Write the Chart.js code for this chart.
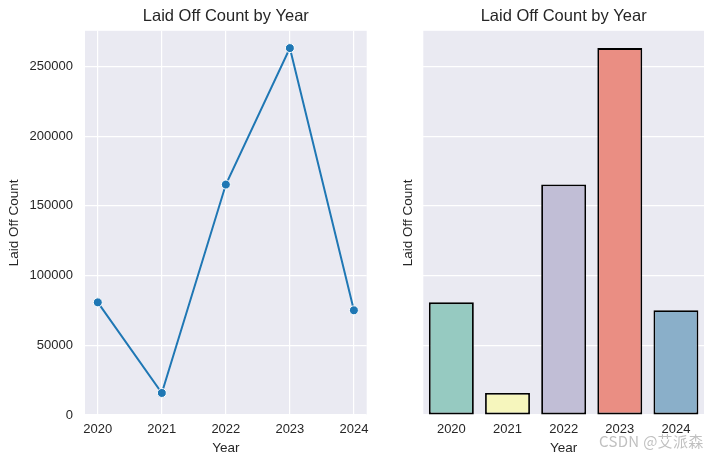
<!DOCTYPE html>
<html>
<head>
<meta charset="utf-8">
<script src="https://cdn.jsdelivr.net/npm/chart.js@4.4.1/dist/chart.umd.min.js"></script>
<style>
  html, body { margin: 0; padding: 0; background: #ffffff; }
  #wrap { position: relative; width: 713px; height: 464px; overflow: hidden; }
  #c1 { position: absolute; left: 0; top: 0; }
  #c2 { position: absolute; left: 370px; top: 0; }
  #wm { position: absolute; left: 599px; top: 430px; font: 15px "Noto Sans CJK SC", "Liberation Sans", sans-serif; color: rgba(150,150,150,0.6); white-space: nowrap; letter-spacing: 0.3px; }
</style>
</head>
<body>
<div id="wrap">
  <canvas id="c1" width="382" height="464"></canvas>
  <canvas id="c2" width="343" height="464"></canvas>
  <div id="wm">CSDN @艾派森</div>
</div>
<script>
const years = [2020, 2021, 2022, 2023, 2024];
const yearLabels = ['2020', '2021', '2022', '2023', '2024'];
const laidOff = [80800, 15800, 165300, 263200, 75100];
const yTicks = [0, 50000, 100000, 150000, 200000, 250000];
const barColors = ['#96cac1', '#f6f6bd', '#c1bed6', '#ea8e83', '#8aafc9'];
const titleText = 'Laid Off Count by Year';
const xTitle = 'Year';
const yTitle = 'Laid Off Count';

const FONT = '"Liberation Sans", Arial, sans-serif';
const TXT = '#262626';
const Y_MIN = 0, Y_MAX = 275600;

const bgPlugin = {
  id: 'bg',
  beforeDraw(chart) {
    const {ctx, chartArea: a} = chart;
    ctx.save();
    ctx.fillStyle = '#EAEAF2';
    ctx.fillRect(a.left, a.top, a.right - a.left, a.bottom - a.top);
    ctx.restore();
  }
};

function titleOpts() {
  return {
    display: true, text: titleText, color: TXT, fullSize: false,
    font: {family: FONT, size: 16.5, weight: 'normal'},
    padding: {top: 7, bottom: 4}
  };
}

// Left: line chart
new Chart(document.getElementById('c1'), {
  type: 'line',
  data: {
    datasets: [{
      data: years.map((y, i) => ({x: y, y: laidOff[i]})),
      borderColor: '#1f77b4',
      backgroundColor: '#1f77b4',
      borderWidth: 2,
      pointRadius: 4.5,
      pointBorderColor: '#ffffff',
      pointBorderWidth: 1,
      pointBackgroundColor: '#1f77b4',
      tension: 0
    }]
  },
  options: {
    responsive: false, animation: false,
    layout: {padding: {left: 0, right: 15.3, top: 0, bottom: 0}},
    plugins: {legend: {display: false}, tooltip: {enabled: false}, title: titleOpts()},
    scales: {
      x: {
        type: 'linear', min: 2019.8, max: 2024.2,
        afterBuildTicks(s) { s.ticks = years.map(v => ({value: v})); },
        afterFit(s) { s.height = 49; s.paddingLeft = 0; s.paddingRight = 0; },
        grid: {color: '#ffffff', lineWidth: 1.2, drawTicks: false},
        border: {display: false},
        ticks: {color: TXT, font: {family: FONT, size: 13}, padding: 7,
                callback: (v) => String(v), maxRotation: 0, autoSkip: false},
        title: {display: true, text: xTitle, color: TXT, font: {family: FONT, size: 13.5},
                padding: {top: 0, bottom: 8}}
      },
      y: {
        min: Y_MIN, max: Y_MAX,
        afterBuildTicks(s) { s.ticks = yTicks.map(v => ({value: v})); },
        afterFit(s) { s.width = 85; },
        grid: {color: '#ffffff', lineWidth: 1.2, drawTicks: false},
        border: {display: false},
        ticks: {color: TXT, font: {family: FONT, size: 13}, padding: 12,
                callback: (v) => String(v)},
        title: {display: true, text: yTitle, color: TXT, font: {family: FONT, size: 13.5},
                padding: {top: 6, bottom: 0}}
      }
    }
  },
  plugins: [bgPlugin]
});

// Right: bar chart
new Chart(document.getElementById('c2'), {
  type: 'bar',
  data: {
    labels: yearLabels,
    datasets: [{
      data: laidOff,
      backgroundColor: barColors,
      borderColor: '#000000',
      borderWidth: 1.8,
      borderSkipped: false,
      categoryPercentage: 1.0,
      barPercentage: 0.8
    }]
  },
  options: {
    responsive: false, animation: false,
    layout: {padding: {left: 0, right: 9, top: 0, bottom: 0}},
    plugins: {legend: {display: false}, tooltip: {enabled: false}, title: titleOpts()},
    scales: {
      x: {
        afterFit(s) { s.height = 49; s.paddingLeft = 0; s.paddingRight = 0; },
        grid: {display: false, drawTicks: false},
        border: {display: false},
        ticks: {color: TXT, font: {family: FONT, size: 13}, padding: 7, maxRotation: 0, autoSkip: false},
        title: {display: true, text: xTitle, color: TXT, font: {family: FONT, size: 13.5},
                padding: {top: 0, bottom: 8}}
      },
      y: {
        min: Y_MIN, max: Y_MAX,
        afterBuildTicks(s) { s.ticks = yTicks.map(v => ({value: v})); },
        afterFit(s) { s.width = 53.3; },
        grid: {color: '#ffffff', lineWidth: 1.2, drawTicks: false},
        border: {display: false},
        ticks: {display: false},
        title: {display: true, text: yTitle, color: TXT, font: {family: FONT, size: 13.5},
                padding: {top: 30, bottom: 0}}
      }
    }
  },
  plugins: [bgPlugin]
});
</script>
</body>
</html>
